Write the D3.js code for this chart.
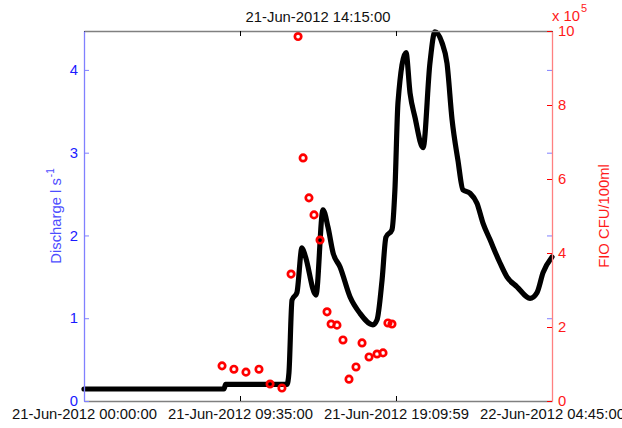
<!DOCTYPE html>
<html>
<head>
<meta charset="utf-8">
<script src="https://cdn.jsdelivr.net/npm/d3@7"></script>
<style>
  body { margin: 0; background: #fff; }
  svg { display: block; }
  text { font-family: "Liberation Sans", Arial, Helvetica, sans-serif; }
</style>
</head>
<body>
<svg id="chart" width="622" height="428"></svg>
<script>
// Event start: 21 June 2012, 00:00:00
const startTime = new Date(2012, 5, 21, 0, 0, 0);

// Discharge (l s^-1), hours since start
const flowHours = [0, 3.1, 8.6, 8.7, 12.47, 12.59, 12.78, 13.08, 13.39, 13.58, 14.25, 14.68, 14.99,
  15.30, 15.73, 16.34, 16.95, 17.75, 18.00, 18.31, 18.55, 18.92, 19.10, 19.29, 19.78, 20.03,
  20.33, 20.83, 21.25, 21.56, 21.99, 22.30, 22.61, 22.97, 23.28, 23.71, 24.14, 24.51, 24.94,
  25.55, 25.98, 26.60, 27.40, 27.83, 28.20, 28.75];
const flowValues = [0.145, 0.145, 0.145, 0.20, 0.20, 0.34, 1.22, 1.31, 1.85, 1.76, 1.28, 2.31, 2.10,
  1.79, 1.62, 1.26, 1.06, 0.92, 0.98, 1.46, 1.98, 2.07, 2.55, 3.61, 4.21, 3.72,
  3.43, 3.06, 4.08, 4.46, 4.33, 4.08, 3.40, 2.91, 2.55, 2.51, 2.39, 2.15, 1.95,
  1.67, 1.50, 1.38, 1.24, 1.31, 1.55, 1.74];

// Faecal indicator organisms (x10^5 CFU/100ml), hours since start
const fioHours = [8.48, 9.21, 9.95, 10.75, 11.43, 12.16, 12.72, 13.15, 13.46, 13.82, 14.13, 14.50,
  14.93, 15.18, 15.54, 15.91, 16.28, 16.71, 17.08, 17.51, 18.00, 18.37, 18.67, 18.92];
const fioValues = [0.95, 0.86, 0.78, 0.86, 0.46, 0.35, 3.43, 9.85, 6.57, 5.49, 5.03, 4.35,
  2.41, 2.08, 2.05, 1.65, 0.59, 0.92, 1.57, 1.19, 1.27, 1.30, 2.11, 2.08];

const xTickHours = [0, 9.5833333, 19.1663889, 28.75];
const xTickLabels = ["21-Jun-2012 00:00:00", "21-Jun-2012 09:35:00", "21-Jun-2012 19:09:59", "22-Jun-2012 04:45:00"];
const flowTicks = [0, 1, 2, 3, 4];
const fioTicks = [0, 2, 4, 6, 8, 10];
const titleText = "21-Jun-2012 14:15:00";

const toDate = h => new Date(startTime.getTime() + h * 3600 * 1000);

const W = 622, H = 428;
const margin = { top: 31, right: 70, bottom: 27, left: 84 };
const x0 = margin.left, x1 = W - margin.right;
const y0 = H - margin.bottom, y1 = margin.top;

const svg = d3.select("#chart");

const x = d3.scaleTime().domain([toDate(0), toDate(28.75)]).range([x0, x1]);
const yFlow = d3.scaleLinear().domain([0, 4.47]).range([y0, y1]);
const yFio = d3.scaleLinear().domain([0, 10]).range([y0, y1]);

const FS = 14.8;
const blueLine = "#8080ff", blueText = "#1a1aff";
const redLine = "#ff8080", redText = "#ff1a1a";
const grey = "#808080";

// ---- data ----
const flowData = flowHours.map((h, i) => ({ t: toDate(h), v: flowValues[i] }));
const fioData = fioHours.map((h, i) => ({ t: toDate(h), v: fioValues[i] }));

svg.append("path")
  .datum(flowData)
  .attr("fill", "none")
  .attr("stroke", "#000")
  .attr("stroke-width", 5.2)
  .attr("stroke-linejoin", "round")
  .attr("stroke-linecap", "round")
  .attr("d", d3.line().curve(d3.curveMonotoneX).x(d => x(d.t)).y(d => yFlow(d.v)));

svg.append("g").selectAll("circle")
  .data(fioData)
  .join("circle")
  .attr("cx", d => x(d.t))
  .attr("cy", d => yFio(d.v))
  .attr("r", 3.2)
  .attr("fill", "none")
  .attr("stroke", "#ff0000")
  .attr("stroke-width", 2.7);

// ---- axes ----
const styleAxis = (g, lineColor, textColor) => {
  g.select(".domain").attr("stroke", lineColor).attr("stroke-width", 1.3);
  g.selectAll(".tick line").attr("stroke", lineColor);
  g.selectAll(".tick text").attr("fill", textColor).attr("font-size", FS).attr("font-family", null);
};

// top border with inward ticks
svg.append("g")
  .attr("transform", `translate(0,${y1})`)
  .call(d3.axisTop(x).tickValues(xTickHours.map(toDate)).tickSizeInner(-5).tickSizeOuter(0).tickFormat(""))
  .call(g => styleAxis(g, grey, "#000"))
  .call(g => g.selectAll(".tick line").attr("stroke", "#000"));

// bottom time axis
svg.append("g")
  .attr("transform", `translate(0,${y0})`)
  .call(d3.axisBottom(x).tickValues(xTickHours.map(toDate)).tickSizeInner(-5).tickSizeOuter(0)
    .tickFormat((d, i) => xTickLabels[i]))
  .call(g => styleAxis(g, grey, "#111"))
  .call(g => g.selectAll(".tick line").attr("stroke", "#000"))
  .call(g => g.selectAll(".tick text").attr("y", 18).attr("dy", 0));

// left discharge axis
svg.append("g")
  .attr("transform", `translate(${x0},0)`)
  .call(d3.axisLeft(yFlow).tickValues(flowTicks).tickFormat(d3.format("d"))
    .tickSizeInner(-5).tickSizeOuter(0).tickPadding(6))
  .call(g => styleAxis(g, blueLine, blueText));

// discharge ticks mirrored on the right edge
svg.append("g")
  .attr("transform", `translate(${x1},0)`)
  .call(d3.axisRight(yFlow).tickValues(flowTicks.slice(1)).tickSizeInner(-5).tickSizeOuter(0).tickFormat(""))
  .call(g => styleAxis(g, blueLine, blueText))
  .call(g => g.select(".domain").remove());

// right FIO axis
svg.append("g")
  .attr("transform", `translate(${x1},0)`)
  .call(d3.axisRight(yFio).tickValues(fioTicks).tickFormat(d3.format("d"))
    .tickSizeInner(-5).tickSizeOuter(0).tickPadding(6))
  .call(g => styleAxis(g, redLine, redText))
  .call(g => g.selectAll(".tick line").attr("stroke", "#ff0000"));

// ---- labels ----
svg.append("text")
  .attr("x", (x0 + x1) / 2)
  .attr("y", 22)
  .attr("text-anchor", "middle")
  .attr("font-size", FS)
  .attr("fill", "#111")
  .text(titleText);

const yl = svg.append("text")
  .attr("transform", `translate(61,${(y0 + y1) / 2}) rotate(-90)`)
  .attr("text-anchor", "middle")
  .attr("font-size", FS)
  .attr("fill", "#4d4dff");
yl.append("tspan").text("Discharge l s");
yl.append("tspan").attr("font-size", 10).attr("dy", -7).attr("dx", 1).text("-1");

svg.append("text")
  .attr("transform", `translate(609,${(y0 + y1) / 2}) rotate(-90)`)
  .attr("text-anchor", "middle")
  .attr("font-size", FS)
  .attr("fill", redText)
  .text("FIO CFU/100ml");

const ex = svg.append("text")
  .attr("x", x1)
  .attr("y", 21)
  .attr("font-size", FS)
  .attr("fill", redText);
ex.append("tspan").text("x 10");
ex.append("tspan").attr("font-size", 11).attr("dy", -9).attr("dx", 1).text("5");
</script>
</body>
</html>
